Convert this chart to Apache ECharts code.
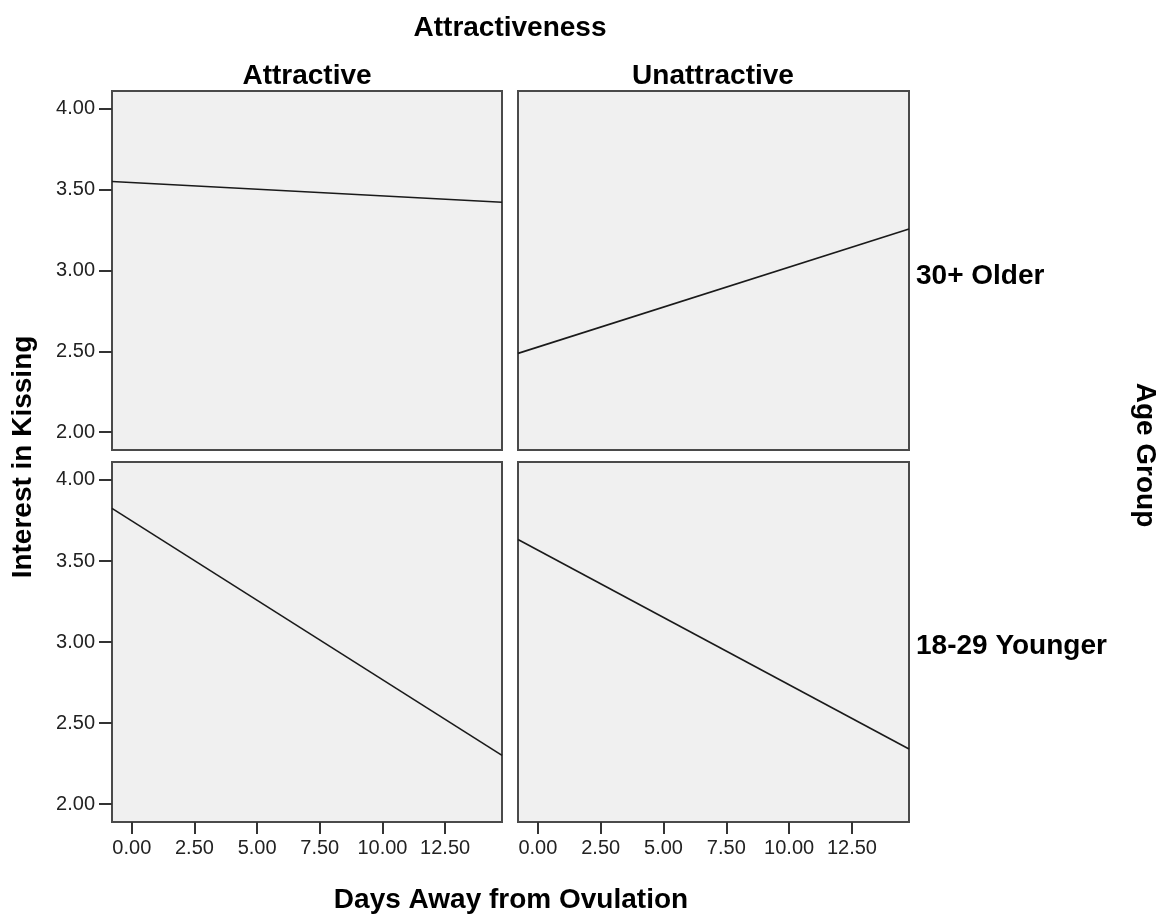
<!DOCTYPE html>
<html>
<head>
<meta charset="utf-8">
<script src="https://cdn.jsdelivr.net/npm/echarts@6/dist/echarts.min.js"></script>
<style>
  html, body { margin: 0; padding: 0; background: #ffffff; }
  #chart { width: 1165px; height: 919px; }
</style>
</head>
<body>
<div id="chart"></div>
<script>
// Fitted lines of interest in kissing against days away from ovulation,
// split by attractiveness (columns) and age group (rows).
const columnLabels = ['Attractive', 'Unattractive'];
const rowLabels = ['30+ Older', '18-29 Younger'];
const xTicks = [0, 2.5, 5, 7.5, 10, 12.5];
const yTicks = [2, 2.5, 3, 3.5, 4];
const xDomain = [-0.79, 14.77];
const yDomain = [1.889, 4.111];

// Fit values at the two ends of the x domain
const olderAttractive = [3.551, 3.422];
const olderUnattractive = [2.487, 3.257];
const youngerAttractive = [3.825, 2.30];
const youngerUnattractive = [3.633, 2.34];

const panelFits = [
  [olderAttractive, olderUnattractive],
  [youngerAttractive, youngerUnattractive]
];

const FONT = '"Liberation Sans", Arial, sans-serif';
const colLeft = [112, 518];
const colWidth = [390, 391];
const rowTop = [91, 462];
const rowHeight = [359, 360];

const grids = [], xAxes = [], yAxes = [], series = [];
let idx = 0;
for (let r = 0; r < 2; r++) {
  for (let c = 0; c < 2; c++) {
    grids.push({
      left: colLeft[c], top: rowTop[r], width: colWidth[c], height: rowHeight[r],
      show: true, backgroundColor: '#f0f0f0', borderColor: '#4a4a4a', borderWidth: 2
    });
    const bottomRow = r === 1;
    xAxes.push({
      type: 'value', gridIndex: idx, min: xDomain[0], max: xDomain[1],
      position: 'bottom',
      axisLine: { show: false, onZero: false },
      splitLine: { show: false },
      axisTick: { show: bottomRow, customValues: xTicks, length: 12,
        lineStyle: { color: '#333', width: 2 } },
      axisLabel: { show: bottomRow, customValues: xTicks, margin: 16,
        formatter: v => v.toFixed(2), color: '#222', fontFamily: FONT, fontSize: 20 }
    });
    const leftCol = c === 0;
    yAxes.push({
      type: 'value', gridIndex: idx, min: yDomain[0], max: yDomain[1],
      position: 'left',
      axisLine: { show: false, onZero: false },
      splitLine: { show: false },
      axisTick: { show: leftCol, customValues: yTicks, length: 13,
        lineStyle: { color: '#333', width: 2 } },
      axisLabel: { show: leftCol, customValues: yTicks, margin: 17,
        formatter: v => v.toFixed(2), color: '#222', fontFamily: FONT, fontSize: 20 }
    });
    const fit = panelFits[r][c];
    series.push({
      type: 'line', xAxisIndex: idx, yAxisIndex: idx,
      data: [[xDomain[0], fit[0]], [xDomain[1], fit[1]]],
      showSymbol: false, silent: true, animation: false,
      lineStyle: { color: '#1a1a1a', width: 1.6 }
    });
    idx++;
  }
}

const titleFont = { fontFamily: FONT, fontWeight: 'bold', fill: '#000', fontSize: 28 };
function label(text, x, y, align, rotation) {
  return {
    type: 'text', x: x, y: y, rotation: rotation || 0,
    style: Object.assign({ text: text, textAlign: align, textVerticalAlign: 'middle' }, titleFont)
  };
}
const graphics = [
  label('Attractiveness', 510, 28, 'center'),
  label(columnLabels[0], 307, 76, 'center'),
  label(columnLabels[1], 713, 76, 'center'),
  label(rowLabels[0], 916, 276, 'left'),
  label(rowLabels[1], 916, 646, 'left'),
  label('Age Group', 1145, 455, 'center', -Math.PI / 2),
  label('Interest in Kissing', 23, 457, 'center', Math.PI / 2),
  label('Days Away from Ovulation', 511, 900, 'center')
];

const chart = echarts.init(document.getElementById('chart'), null, { renderer: 'canvas' });
chart.setOption({
  animation: false,
  backgroundColor: '#ffffff',
  grid: grids,
  xAxis: xAxes,
  yAxis: yAxes,
  series: series,
  graphic: graphics
});
</script>
</body>
</html>
